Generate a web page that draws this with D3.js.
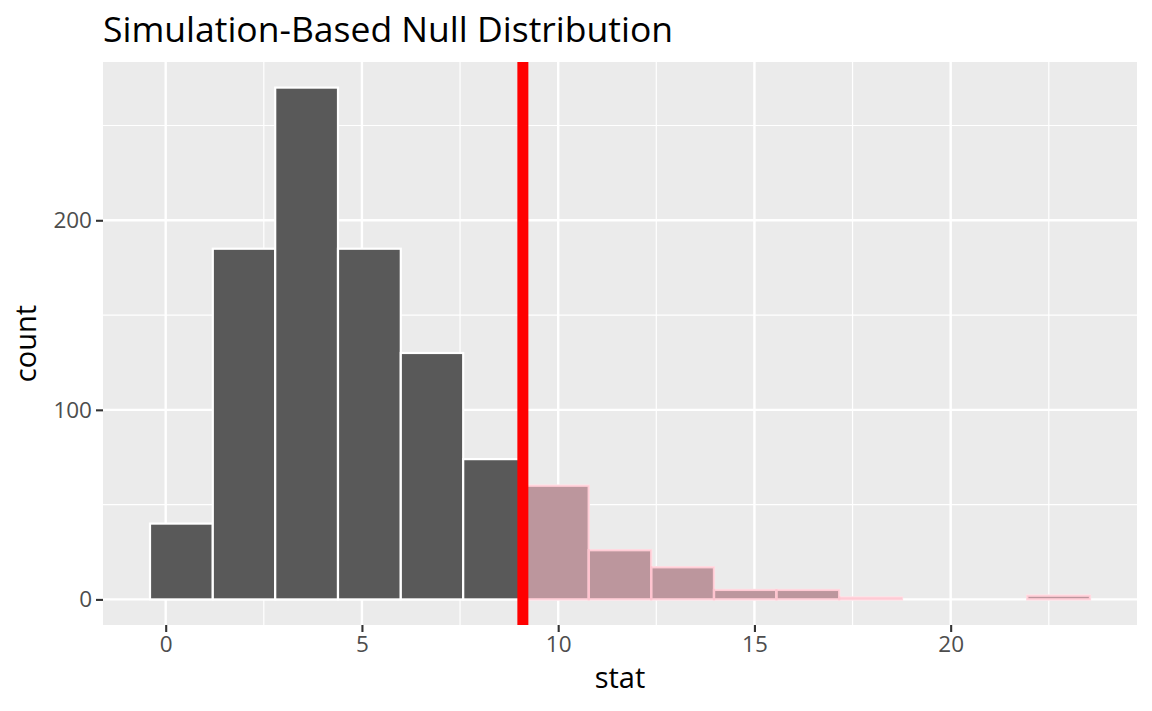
<!DOCTYPE html>
<html>
<head>
<meta charset="utf-8">
<script src="https://cdn.jsdelivr.net/npm/d3@7"></script>
<style>
  body { margin: 0; background: #fff; }
  svg text { font-family: "Open Sans", sans-serif; }
</style>
</head>
<body>
<div id="chart"></div>
<script>
// histogram bins (15 bins)
var binEdges = [-0.40, 1.20, 2.79, 4.39, 5.99, 7.58, 9.18, 10.78, 12.37, 13.97, 15.56, 17.16, 18.76, 20.35, 21.95, 23.55];
var binCounts = [40, 185, 270, 185, 130, 74, 60, 26, 17, 5, 5, 1, 0, 0, 2];
var obsStat = 9.10;
var xTicks = [0, 5, 10, 15, 20];
var yTicks = [0, 100, 200];
var xMinor = [2.5, 7.5, 12.5, 17.5, 22.5];
var yMinor = [50, 150, 250];

var W = 1152, H = 711,
    panel = { left: 103, right: 1137, top: 62, bottom: 625 };

var bins = binCounts.map(function (c, i) {
    return { x0: binEdges[i], x1: binEdges[i + 1], count: c };
});

// ggplot style 5% expansion
var lo = binEdges[0], hi = binEdges[binEdges.length - 1],
    pad = (hi - lo) * 0.05,
    maxCount = d3.max(binCounts);

var x = d3.scaleLinear().domain([lo - pad, hi + pad]).range([panel.left, panel.right]),
    y = d3.scaleLinear().domain([-0.05 * maxCount, 1.05 * maxCount]).range([panel.bottom, panel.top]);

var svg = d3.select('#chart').append('svg')
    .attr('width', W).attr('height', H);

// panel background
svg.append('rect')
    .attr('x', panel.left).attr('y', panel.top)
    .attr('width', panel.right - panel.left)
    .attr('height', panel.bottom - panel.top)
    .attr('fill', '#EBEBEB');

var grid = svg.append('g');
grid.selectAll('.vminor').data(xMinor).enter().append('line')
    .attr('x1', x).attr('x2', x)
    .attr('y1', panel.top).attr('y2', panel.bottom)
    .attr('stroke', '#fff').attr('stroke-width', 1.2);
grid.selectAll('.hminor').data(yMinor).enter().append('line')
    .attr('y1', y).attr('y2', y)
    .attr('x1', panel.left).attr('x2', panel.right)
    .attr('stroke', '#fff').attr('stroke-width', 1.2);
grid.selectAll('.vmajor').data(xTicks).enter().append('line')
    .attr('x1', x).attr('x2', x)
    .attr('y1', panel.top).attr('y2', panel.bottom)
    .attr('stroke', '#fff').attr('stroke-width', 2.4);
grid.selectAll('.hmajor').data(yTicks).enter().append('line')
    .attr('y1', y).attr('y2', y)
    .attr('x1', panel.left).attr('x2', panel.right)
    .attr('stroke', '#fff').attr('stroke-width', 2.4);

// bars
svg.append('g').selectAll('rect').data(bins).enter().append('rect')
    .attr('x', function (d) { return x(d.x0); })
    .attr('width', function (d) { return x(d.x1) - x(d.x0); })
    .attr('y', function (d) { return y(d.count); })
    .attr('height', function (d) { return y(0) - y(d.count); })
    .attr('fill', '#595959')
    .attr('stroke', '#fff')
    .attr('stroke-width', 2.2);

// shade bars beyond the observed statistic
svg.append('g').selectAll('rect')
    .data(bins.filter(function (d) { return d.x0 >= obsStat && d.count > 0; }))
    .enter().append('rect')
    .attr('x', function (d) { return x(d.x0); })
    .attr('width', function (d) { return x(d.x1) - x(d.x0); })
    .attr('y', function (d) { return y(d.count); })
    .attr('height', function (d) { return y(0) - y(d.count); })
    .attr('fill', 'pink')
    .attr('fill-opacity', 0.6)
    .attr('stroke', 'pink')
    .attr('stroke-opacity', 0.6)
    .attr('stroke-width', 2.2);

// observed statistic
svg.append('line')
    .attr('x1', x(obsStat)).attr('x2', x(obsStat))
    .attr('y1', panel.top).attr('y2', panel.bottom)
    .attr('stroke', '#FF0000').attr('stroke-width', 11);

// axes
function styleAxis(g) {
    g.select('.domain').remove();
    g.selectAll('.tick line').attr('stroke', '#333333').attr('stroke-width', 2.1);
    g.selectAll('.tick text').attr('fill', '#4D4D4D')
        .style('font-size', '22.5px');
}

svg.append('g')
    .attr('transform', 'translate(0,' + panel.bottom + ')')
    .call(d3.axisBottom(x).tickValues(xTicks).tickSize(7).tickPadding(4))
    .call(styleAxis);

svg.append('g')
    .attr('transform', 'translate(' + panel.left + ',0)')
    .call(d3.axisLeft(y).tickValues(yTicks).tickSize(7).tickPadding(4))
    .call(styleAxis);

// labels
svg.append('text')
    .attr('x', 103).attr('y', 42)
    .style('font-size', '35.5px')
    .attr('fill', '#000')
    .text('Simulation-Based Null Distribution');

svg.append('text')
    .attr('x', (panel.left + panel.right) / 2).attr('y', 688)
    .attr('text-anchor', 'middle')
    .style('font-size', '29px')
    .text('stat');

svg.append('text')
    .attr('transform', 'translate(36,' + (panel.top + panel.bottom) / 2 + ') rotate(-90)')
    .attr('text-anchor', 'middle')
    .style('font-size', '29px')
    .text('count');
</script>
</body>
</html>
